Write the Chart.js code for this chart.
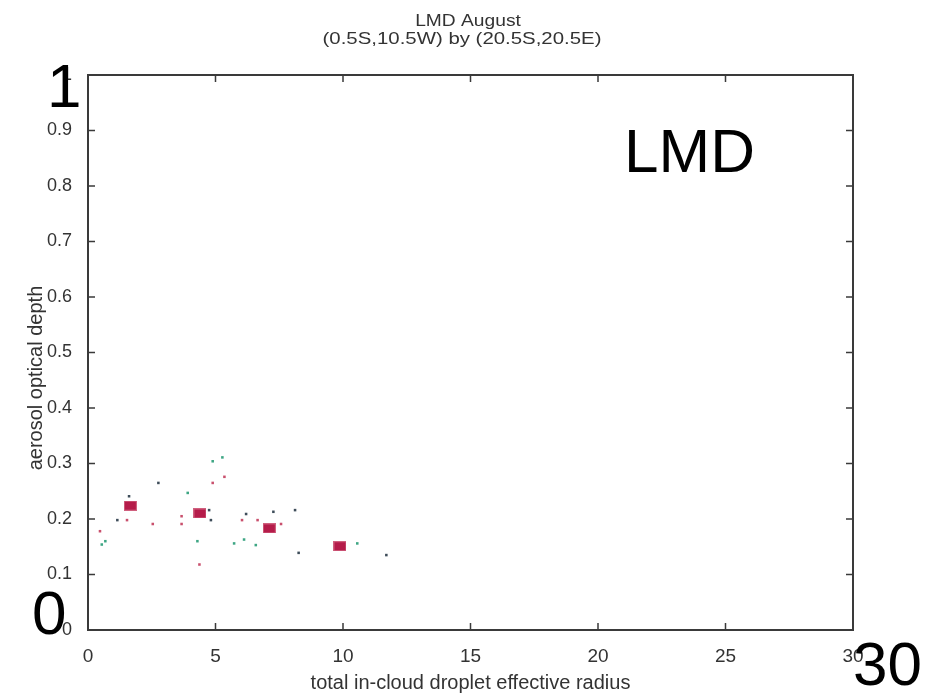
<!DOCTYPE html>
<html>
<head>
<meta charset="utf-8">
<script src="https://cdn.jsdelivr.net/npm/chart.js@4.4.1/dist/chart.umd.min.js"></script>
<style>
  html, body { margin: 0; padding: 0; background: #fff; }
  #wrap { width: 927px; height: 696px; }
</style>
</head>
<body>
<div id="wrap"><canvas id="chart" width="927" height="696"></canvas></div>
<script>
// Werte (x = Radius, y = optische Dicke)
const meanX = [1.66, 4.39, 7.11, 9.88];
const meanY = [0.224, 0.210, 0.183, 0.151];

const redX = [0.47, 1.53, 2.54, 3.67, 3.67, 4.37, 4.89, 5.35, 6.04, 6.65, 7.57];
const redY = [0.178, 0.198, 0.191, 0.205, 0.191, 0.118, 0.265, 0.276, 0.198, 0.198, 0.191];

const greenX = [0.54, 0.68, 3.91, 4.29, 4.89, 5.27, 5.73, 6.12, 6.58, 10.56];
const greenY = [0.154, 0.160, 0.247, 0.160, 0.304, 0.311, 0.156, 0.163, 0.153, 0.156];

const darkX = [1.15, 1.61, 2.76, 4.75, 4.82, 6.20, 7.27, 8.12, 8.26, 11.70];
const darkY = [0.198, 0.241, 0.265, 0.216, 0.198, 0.209, 0.213, 0.216, 0.139, 0.135];

const TITLE = "LMD August";
const SUBTITLE = "(0.5S,10.5W) by (20.5S,20.5E)";
const X_LABEL = "total in-cloud droplet effective radius";
const Y_LABEL = "aerosol optical depth";

const FONT = "'Liberation Sans', Arial, Helvetica, sans-serif";
const INK = "#333";

Chart.defaults.font.family = FONT;
Chart.defaults.color = INK;

function pts(xs, ys) {
  return xs.map((x, i) => ({ x: x, y: ys[i] }));
}

// rechteckiger Marker wie im MATLAB-Plot
function boxMarker(w, h, color) {
  const c = document.createElement("canvas");
  c.width = w; c.height = h;
  const g = c.getContext("2d");
  g.fillStyle = "#d0607e";
  g.fillRect(0, 0, w, h);
  g.fillStyle = color;
  g.fillRect(1, 1, w - 2, h - 2);
  return c;
}

// Text leicht in die Breite gezogen (MATLAB-Schrift ist breiter)
function wideText(ctx, text, x, y, sx) {
  ctx.save();
  ctx.translate(x, y);
  ctx.scale(sx, 1);
  ctx.fillText(text, 0, 0);
  ctx.restore();
}

// Rahmen mit nach innen zeigenden Ticks + Texte
const matlabFrame = {
  id: "matlabFrame",
  beforeDatasetsDraw(chart) {
    const { ctx, chartArea: a, scales: { x, y } } = chart;
    ctx.save();
    ctx.strokeStyle = "#3a3a3a";
    ctx.lineWidth = 1.5;
    ctx.beginPath();
    x.ticks.forEach((t) => {
      const px = x.getPixelForValue(t.value);
      ctx.moveTo(px, a.bottom); ctx.lineTo(px, a.bottom - 7);
      ctx.moveTo(px, a.top); ctx.lineTo(px, a.top + 7);
    });
    y.ticks.forEach((t) => {
      const py = y.getPixelForValue(t.value);
      ctx.moveTo(a.left, py); ctx.lineTo(a.left + 7, py);
      ctx.moveTo(a.right, py); ctx.lineTo(a.right - 7, py);
    });
    ctx.stroke();
    ctx.lineWidth = 2;
    ctx.strokeRect(a.left, a.top, a.right - a.left, a.bottom - a.top);
    ctx.restore();
  },
  afterDraw(chart) {
    const { ctx } = chart;
    ctx.save();
    ctx.fillStyle = INK;
    ctx.textAlign = "center";
    ctx.textBaseline = "alphabetic";
    ctx.font = "16px " + FONT;
    wideText(ctx, TITLE, 468, 26, 1.2);
    ctx.font = "17px " + FONT;
    wideText(ctx, SUBTITLE, 462, 44, 1.2);

    ctx.save();
    ctx.font = "20px " + FONT;
    ctx.translate(42, 378);
    ctx.rotate(-Math.PI / 2);
    ctx.fillText(Y_LABEL, 0, 0);
    ctx.restore();

    // große Beschriftungen
    ctx.fillStyle = "#000";
    ctx.textAlign = "left";
    ctx.font = "62px " + FONT;
    ctx.fillText("1", 47, 107);
    ctx.fillText("0", 32, 634);
    ctx.fillText("30", 853, 685);
    ctx.fillText("LMD", 624, 172);
    ctx.restore();
  },
};

new Chart(document.getElementById("chart"), {
  type: "scatter",
  data: {
    datasets: [
      { data: pts(darkX, darkY), pointStyle: "rect", pointRadius: 1.8,
        backgroundColor: "#3e4d5a", borderWidth: 0 },
      { data: pts(redX, redY), pointStyle: "rect", pointRadius: 1.8,
        backgroundColor: "#c9506d", borderWidth: 0 },
      { data: pts(greenX, greenY), pointStyle: "rect", pointRadius: 1.8,
        backgroundColor: "#3ea684", borderWidth: 0 },
      { data: pts(meanX, meanY), pointStyle: boxMarker(13, 10, "#b51c4a"),
        pointRadius: 6, borderWidth: 0 },
    ],
  },
  options: {
    responsive: false,
    devicePixelRatio: 1,
    animation: false,
    layout: { padding: { top: 75, right: 74, left: 0, bottom: 0 } },
    plugins: { legend: { display: false }, tooltip: { enabled: false } },
    scales: {
      x: {
        type: "linear", min: 0, max: 30,
        grid: { display: false },
        border: { display: false },
        ticks: { stepSize: 5, padding: 7, maxRotation: 0, color: INK,
                 font: { size: 19 } },
        title: { display: true, text: X_LABEL, color: INK,
                 font: { size: 20 }, padding: { top: 0, bottom: 1 } },
        afterFit: (s) => { s.height = 66; },
      },
      y: {
        type: "linear", min: 0, max: 1,
        grid: { display: false },
        border: { display: false },
        ticks: { stepSize: 0.1, padding: 8, color: INK, font: { size: 18 },
                 callback: (v) => String(+v.toFixed(1)) },
        afterFit: (s) => { s.width = 88; },
      },
    },
  },
  plugins: [matlabFrame],
});
</script>
</body>
</html>
